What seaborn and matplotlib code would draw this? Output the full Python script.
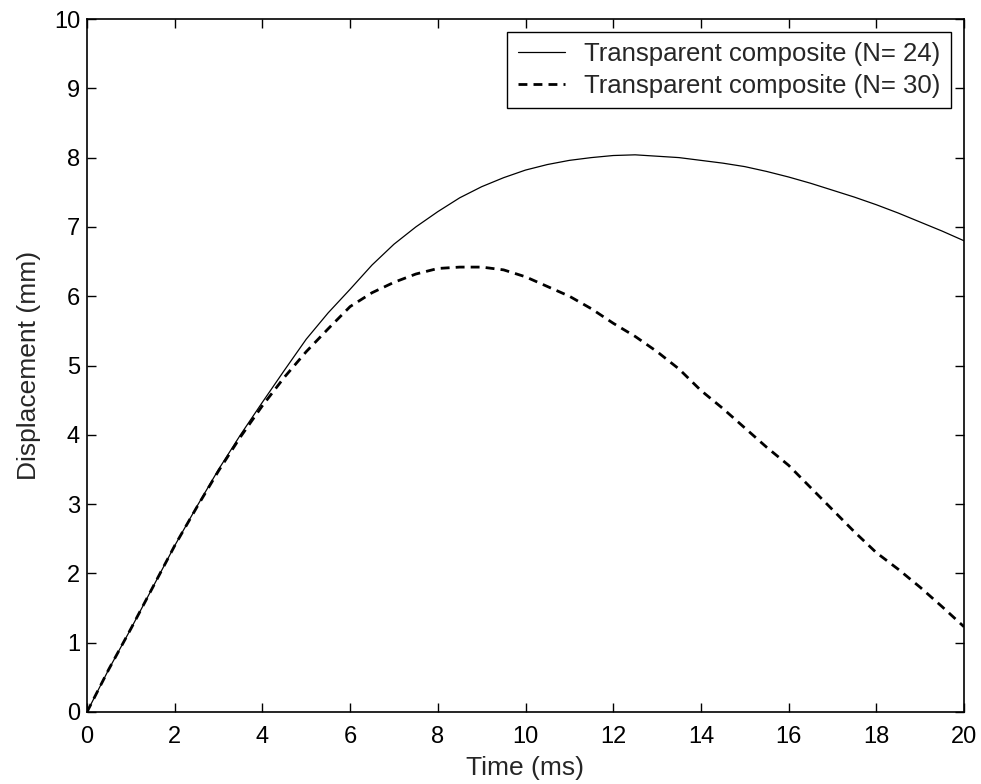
import matplotlib
matplotlib.use("Agg")
import matplotlib.pyplot as plt
import seaborn as sns
import pandas as pd

time_ms = [0, 0.5, 1, 1.5, 2, 2.5, 3, 3.5, 4, 4.5, 5, 5.5, 6, 6.5, 7, 7.5, 8, 8.5, 9, 9.5,
           10, 10.5, 11, 11.5, 12, 12.5, 13, 13.5, 14, 14.5, 15, 15.5, 16, 16.5, 17, 17.5,
           18, 18.5, 19, 19.5, 20]
disp_n24 = [0, 0.62, 1.2, 1.8, 2.4, 2.96, 3.5, 4.0, 4.47, 4.93, 5.38, 5.76, 6.1, 6.45,
            6.75, 7.0, 7.22, 7.42, 7.58, 7.71, 7.82, 7.90, 7.96, 8.0, 8.03, 8.04, 8.02,
            8.0, 7.96, 7.92, 7.87, 7.80, 7.72, 7.63, 7.53, 7.43, 7.32, 7.2, 7.07, 6.94, 6.80]
disp_n30 = [0, 0.62, 1.2, 1.8, 2.4, 2.95, 3.48, 3.97, 4.42, 4.83, 5.2, 5.53, 5.85, 6.05,
            6.2, 6.32, 6.4, 6.42, 6.42, 6.38, 6.28, 6.14, 6.0, 5.82, 5.61, 5.42, 5.2,
            4.95, 4.64, 4.38, 4.1, 3.82, 3.56, 3.24, 2.92, 2.6, 2.30, 2.06, 1.80, 1.52, 1.23]
series_labels = ["Transparent composite (N= 24)", "Transparent composite (N= 30)"]
x_ticks = [0, 2, 4, 6, 8, 10, 12, 14, 16, 18, 20]
y_ticks = [0, 1, 2, 3, 4, 5, 6, 7, 8, 9, 10]

sns.set_style("ticks")
plt.rcParams['font.family'] = ['Liberation Sans', 'DejaVu Sans']

df1 = pd.DataFrame({"t": time_ms, "d": disp_n24})
df2 = pd.DataFrame({"t": time_ms, "d": disp_n30})

fig = plt.figure(figsize=(9.81, 7.84), dpi=100)
ax = fig.add_axes([87/981, 72/784, (964-87)/981, (712-19)/784])

sns.lineplot(data=df1, x="t", y="d", ax=ax, color="black", linewidth=0.9,
             label=series_labels[0])
sns.lineplot(data=df2, x="t", y="d", ax=ax, color="black", linewidth=2.0,
             linestyle=(0, (3.2, 2.2)), label=series_labels[1])

ax.set_xlim(0, 20)
ax.set_ylim(0, 10)
ax.set_xticks(x_ticks)
ax.set_yticks(y_ticks)
ax.tick_params(direction="in", length=6.5, width=1, top=True, right=True,
               labelsize=17, colors="black", pad=5)
ax.tick_params(axis="x", pad=10)
for s in ax.spines.values():
    s.set_visible(True)
    s.set_linewidth(1.2)
    s.set_color("black")

ax.set_xlabel("Time (ms)", fontsize=19, labelpad=6)
ax.set_ylabel("Displacement (mm)", fontsize=19, labelpad=9)

leg = ax.legend(loc="upper right", fontsize=18.5, frameon=True, fancybox=False,
                edgecolor="black", framealpha=1, borderpad=0.4, handlelength=1.85,
                handletextpad=0.75, labelspacing=0.3, borderaxespad=0.5)
leg.get_frame().set_linewidth(1.0)

fig.savefig("out.png", dpi=100)
